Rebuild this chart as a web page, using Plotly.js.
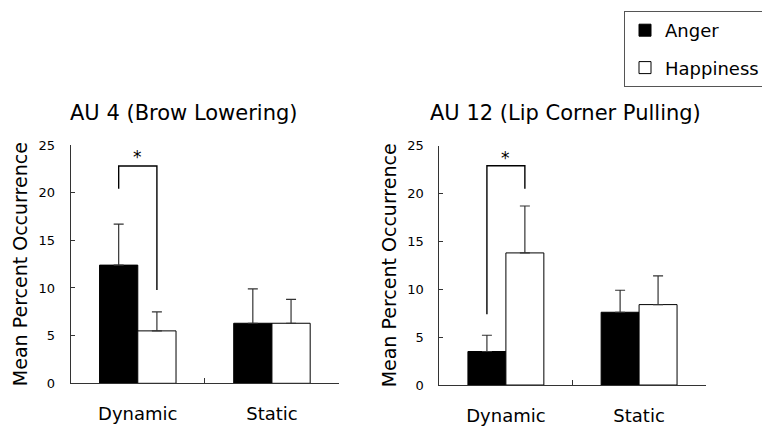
<!DOCTYPE html>
<html>
<head>
<meta charset="utf-8">
<script src="https://cdn.plot.ly/plotly-3.0.1.min.js"></script>
<style>html,body{margin:0;padding:0;background:#fff;}#chart{width:762px;height:426px;}</style>
</head>
<body>
<div id="chart"></div>
<script>
// ---- data ----
const categories = ["Dynamic", "Static"];
const panelTitles = ["AU 4 (Brow Lowering)", "AU 12 (Lip Corner Pulling)"];
const seriesNames = ["Anger", "Happiness"];
// AU 4
const au4Anger = [12.4, 6.3];
const au4AngerErr = [4.3, 3.6];
const au4Happy = [5.5, 6.3];
const au4HappyErr = [2.0, 2.5];
// AU 12
const au12Anger = [3.5, 7.6];
const au12AngerErr = [1.7, 2.3];
const au12Happy = [13.8, 8.4];
const au12HappyErr = [4.9, 3.0];
// significance brackets (Dynamic: Anger vs Happiness)
const bracketTop = [22.8, 22.9];
const bracketLeftEnd = [20.4, 7.4];
const bracketRightEnd = [9.8, 20.5];
const starY = [23.7, 23.7];
const yTickVals = [0, 5, 10, 15, 20, 25];

// ---- style ----
const FONT = "DejaVu Sans, sans-serif";
const AXC = "#333333";
const bargap = 0.43;
const off = (1 - bargap) / 4;

function err(arr) {
  return {type: "data", symmetric: false, array: arr, arrayminus: arr.map(() => 0),
          color: AXC, thickness: 1.2, width: 5};
}

const panels = [
  {anger: au4Anger, angerErr: au4AngerErr, happy: au4Happy, happyErr: au4HappyErr, xa: "x", ya: "y"},
  {anger: au12Anger, angerErr: au12AngerErr, happy: au12Happy, happyErr: au12HappyErr, xa: "x2", ya: "y2"}
];

const traces = [];
panels.forEach((p, i) => {
  traces.push({
    type: "bar", x: categories, y: p.anger, name: seriesNames[0], xaxis: p.xa, yaxis: p.ya,
    marker: {color: "#000000", line: {color: "#000000", width: 1}},
    error_y: err(p.angerErr), showlegend: i === 0, legendgroup: "a", hoverinfo: "y"
  });
  traces.push({
    type: "bar", x: categories, y: p.happy, name: seriesNames[1], xaxis: p.xa, yaxis: p.ya,
    marker: {color: "#ffffff", line: {color: "#000000", width: 1}},
    error_y: err(p.happyErr), showlegend: i === 0, legendgroup: "h", hoverinfo: "y"
  });
});

const shapes = [];
const annotations = [];
panels.forEach((p, i) => {
  const xl = 0 - off, xr = 0 + off;
  const xref = p.xa, yref = p.ya;
  shapes.push({type: "path", xref, yref,
    path: `M${xl},${bracketLeftEnd[i]} L${xl},${bracketTop[i]} L${xr},${bracketTop[i]} L${xr},${bracketRightEnd[i]}`,
    line: {color: "#000000", width: 1.4}});
  annotations.push({xref, yref, x: 0, y: starY[i], text: "*", showarrow: false,
    font: {family: FONT, size: 17, color: "#000"}, yanchor: "middle"});
});

annotations.push({xref: "paper", yref: "paper", x: 184 / 762, y: 1 - 113 / 426, text: panelTitles[0],
  showarrow: false, xanchor: "center", yanchor: "middle", font: {family: FONT, size: 21, color: "#000"}});
annotations.push({xref: "paper", yref: "paper", x: 565 / 762, y: 1 - 113 / 426, text: panelTitles[1],
  showarrow: false, xanchor: "center", yanchor: "middle", font: {family: FONT, size: 21, color: "#000"}});

function xaxis(domain, anchor) {
  return {domain, anchor, type: "category", range: [-0.5, 1.5], showline: true, linecolor: AXC, linewidth: 1,
    ticks: "inside", tickson: "boundaries", ticklen: 5, tickcolor: AXC, showgrid: false, zeroline: false,
    tickfont: {family: FONT, size: 18, color: "#000"}, ticklabelstandoff: 14, fixedrange: true};
}
function yaxis(domain, anchor) {
  return {domain, anchor, range: [0, 25], tickvals: yTickVals, showline: true, linecolor: AXC, linewidth: 1,
    ticks: "inside", ticklen: 4, tickcolor: AXC, showgrid: false, zeroline: false,
    tickfont: {family: FONT, size: 13, color: "#000"}, ticklabelstandoff: 12,
    title: {text: "Mean Percent Occurrence", font: {family: FONT, size: 19, color: "#000"}, standoff: 5},
    fixedrange: true};
}

const layout = {
  width: 762, height: 426,
  margin: {l: 0, r: 0, t: 0, b: 0, autoexpand: false},
  paper_bgcolor: "#fff", plot_bgcolor: "#fff",
  barmode: "group", bargap: bargap, bargroupgap: 0,
  font: {family: FONT, color: "#000"},
  xaxis: xaxis([0.0928, 0.4449], "y"),
  yaxis: yaxis([0.1002, 0.6596], "x"),
  xaxis2: xaxis([0.5765, 0.9261], "y2"),
  yaxis2: yaxis([0.0962, 0.658], "x2"),
  showlegend: true,
  legend: {x: 624 / 762, y: 1 - 11 / 426, xanchor: "left", yanchor: "top", orientation: "v",
    bordercolor: "#555", borderwidth: 1, bgcolor: "#fff",
    font: {family: FONT, size: 18, color: "#000"}, tracegroupgap: 11, itemwidth: 30},
  shapes, annotations
};

Plotly.newPlot("chart", traces, layout, {displayModeBar: false, staticPlot: true});
</script>
</body>
</html>
